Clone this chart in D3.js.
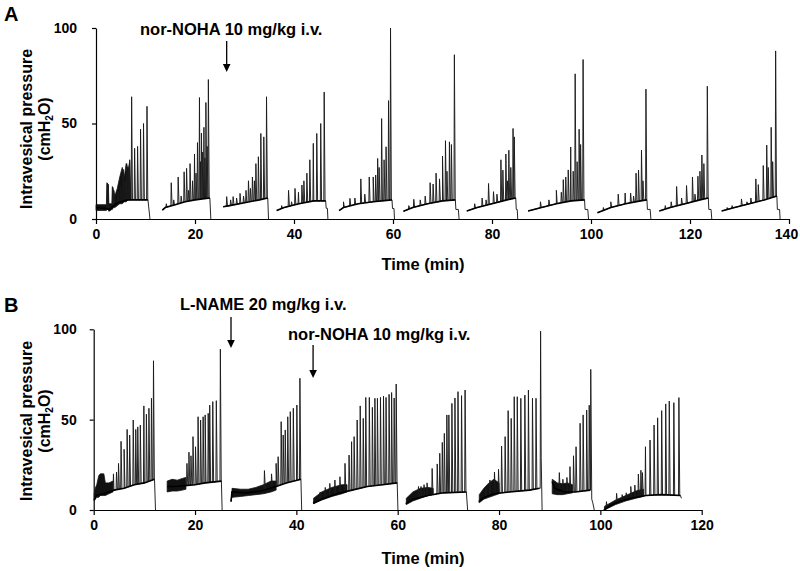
<!DOCTYPE html>
<html><head><meta charset="utf-8">
<script src="https://cdn.jsdelivr.net/npm/d3@7"></script>
<style>
body{margin:0;background:#fff}
svg{display:block}
text{font-family:"Liberation Sans",Arial,Helvetica,sans-serif;font-weight:bold;fill:#000}
</style>
</head><body>
<svg id="chart" width="800" height="571"></svg>
<script>
// ---------- tick labels ----------
const timeTicksA = [0, 20, 40, 60, 80, 100, 120, 140];
const timeTicksB = [0, 20, 40, 60, 80, 100, 120];
const pressureTicks = [0, 50, 100];

// ---------- annotations (time of i.v. injection, min) ----------
const injectionsA = [{ t: 26.4, label: "nor-NOHA 10 mg/kg i.v." }];
const injectionsB = [
  { t: 27.1, label: "L-NAME 20 mg/kg i.v." },
  { t: 43.3, label: "nor-NOHA 10 mg/kg i.v." }
];

// ---------- Panel A: filling cycles ----------
// baseline key points [time (min), pressure (cmH2O)]
const baseA = [
  [[0, 6], [2.1, 5.5], [2.7, 4.8], [3.2, 6], [4, 8], [5, 9], [6.5, 10], [10.5, 10]],
  [[13.4, 4.7], [14, 6], [16, 7.5], [18, 9], [20, 10], [23.0, 11]],
  [[25.7, 6.4], [27, 7], [30, 8.5], [33, 10], [34.7, 11]],
  [[36.5, 4.4], [38, 6], [41, 8], [44, 9.5], [46.4, 9.5]],
  [[49.1, 4.4], [50, 6], [53, 8], [56, 9], [59.8, 10]],
  [[62.1, 4], [64, 6], [67, 8], [70, 9.5], [72.6, 10]],
  [[74.9, 4.2], [77, 6], [80, 8], [83, 10], [84.8, 11]],
  [[87.3, 4.2], [90, 6], [93, 8], [96, 9.5], [98.7, 10]],
  [[101.3, 3.3], [104, 6], [107, 8], [110, 9.5], [111.3, 10]],
  [[113.8, 4.2], [116, 6], [119, 8], [122, 10], [123.7, 11]],
  [[126.4, 4.2], [129, 6], [132, 8], [135, 10], [137.55, 12]]
];
// contraction peaks [time, peak pressure]
const spikesA = [
  [[2.3, 18.5], [2.45, 18], [3.4, 16.5], [3.6, 15], [4.5, 14], [5.0, 17], [5.5, 26], [5.9, 20], [6.2, 29], [6.5, 26], [6.8, 31], [7.2, 64], [7.8, 37], [8.4, 38], [9.0, 47], [9.6, 50], [10.3, 59]],
  [[14.2, 8], [15.2, 19], [15.7, 10], [16.6, 22], [17.2, 12], [17.8, 24.7], [18.3, 26.5], [18.7, 15], [19.0, 29], [19.5, 20], [19.9, 34], [20.2, 24], [20.5, 40], [20.9, 63.6], [21.1, 30], [21.3, 45], [21.55, 35], [21.8, 48], [22.0, 32], [22.2, 61], [22.45, 38], [22.7, 73]],
  [[26.4, 11.7], [27.2, 10], [27.7, 11.7], [28.4, 11], [29.1, 13.4], [29.8, 12], [30.3, 15], [30.8, 20], [31.2, 16], [31.6, 22], [32.0, 20], [32.3, 29], [32.8, 32.6], [33.3, 44.8], [33.9, 43], [34.45, 64]],
  [[37.5, 7], [38.9, 15], [39.5, 9], [40.2, 16], [40.9, 14], [41.6, 17.8], [42.0, 20], [42.6, 24], [43.2, 31], [43.9, 39.6], [44.6, 44.8], [45.4, 50], [46.1, 66.5]],
  [[50.0, 9], [51.3, 10.8], [52.3, 11], [53.5, 21], [54.3, 13], [55.2, 22], [56.0, 22], [56.5, 23], [56.9, 31.7], [57.2, 27], [57.7, 52.6], [58.2, 31], [58.6, 37.8], [59.1, 62], [59.5, 100]],
  [[63.2, 7], [64.2, 10.3], [65.5, 10], [66.5, 12], [67.5, 19], [68.1, 18.3], [68.7, 24], [69.4, 21], [70.0, 33], [70.6, 41], [70.9, 25], [71.4, 40.4], [71.8, 39], [72.4, 86]],
  [[76.5, 8], [78.0, 11], [78.8, 10], [79.3, 18.6], [80.3, 14.3], [81.0, 13], [81.8, 31], [82.2, 25.6], [82.8, 34], [83.1, 20], [83.4, 36], [83.8, 27], [84.25, 47.4], [84.5, 43]],
  [[89.8, 9], [91.5, 10], [93.0, 15], [94.0, 14], [94.4, 20.6], [94.9, 22], [95.4, 25.7], [95.9, 37.7], [96.4, 25], [96.8, 76], [97.2, 30], [97.6, 47], [97.9, 39], [98.4, 83.5]],
  [[102.5, 6], [104.0, 9], [105.5, 13], [106.9, 13.6], [108.0, 13.6], [108.6, 12], [109.1, 24], [109.6, 25.6], [110.2, 36], [110.5, 20], [111.1, 68]],
  [[115.0, 7], [116.2, 9], [117.3, 17], [118.3, 11], [119.3, 17.5], [120.5, 22], [121.0, 13], [121.6, 22.4], [122.0, 25], [122.4, 33.5], [122.8, 29], [123.5, 69.5]],
  [[127.5, 6], [128.5, 7], [130.4, 10.5], [131.5, 9], [132.3, 11], [133.3, 21], [133.8, 18], [134.8, 28], [135.5, 38.7], [135.8, 27], [136.4, 48], [136.7, 30], [137.3, 88]]
];
// end of cycle (micturition / emptying) [time, pressure]
const tailA = [
  [[10.9, 0]],
  [[23.2, 0]],
  [[34.85, 0]],
  [[46.5, 5.6], [46.75, 5.6], [46.85, 0]],
  [[59.9, 5.5], [60.2, 5.5], [60.3, 0]],
  [[72.7, 5], [73.2, 5], [73.35, 0]],
  [[84.9, 5], [85.1, 5], [85.2, 0]],
  [[98.8, 5], [99.35, 5], [99.5, 0]],
  [[111.4, 5], [111.95, 5], [112.1, 0]],
  [[123.8, 5], [124.25, 5], [124.4, 0]],
  [[137.65, 5], [138.1, 5], [138.2, 0]]
];
// dense noise envelopes [time, low, high]
const noiseA = [
  [[0, 4.5, 7.5], [2.1, 4.5, 7.5], [2.2, 5, 19], [2.5, 5, 18], [2.6, 4, 8], [3.2, 5, 8], [3.3, 5, 17], [3.5, 6, 15], [3.8, 6, 12], [4.3, 7, 16], [4.8, 8, 22], [5.3, 8, 27], [5.7, 9, 22], [6.1, 9, 29], [6.5, 10, 26], [6.8, 10, 30], [7.0, 10, 14]]
];

// ---------- Panel B: filling cycles ----------
const baseB = [
  [[0.1, 5.5], [0.5, 8], [2, 9], [4, 11], [6, 12], [8, 14], [10, 15], [12.0, 17]],
  [[14.5, 13], [16, 13], [18, 13.5], [20, 14], [22, 15], [25.2, 16]],
  [[27.1, 4.6], [27.3, 10], [30, 9.5], [33, 10.5], [36, 13], [38, 15], [40.9, 17]],
  [[43.3, 3.7], [45, 6], [48, 9], [51, 11], [54, 13], [57, 14], [59.9, 15]],
  [[61.6, 3.5], [63, 6], [66, 8], [69, 9.5], [73.55, 10]],
  [[76.0, 4.6], [77, 7], [79, 9], [82, 10], [86, 11], [88.0, 12]],
  [[90.5, 15.7], [91, 12], [93, 10], [95, 10], [98.0, 11]],
  [[100.7, 0], [102, 2.5], [104, 5], [106, 6.5], [109, 8], [112, 8.5], [115.8, 8]]
];
const spikesB = [
  [[3.9, 20], [4.5, 21], [4.9, 25.8], [5.4, 38], [6.0, 33.6], [6.6, 44.6], [7.1, 41.5], [7.8, 49.8], [8.3, 44.6], [8.7, 46], [9.2, 47], [9.9, 57.6], [10.4, 53], [10.9, 56.3], [11.4, 61.8], [11.8, 82.6]],
  [[18.4, 25.8], [18.8, 32], [19.2, 30], [19.6, 40.6], [20.1, 35], [20.6, 51.6], [21.1, 49.8], [21.6, 51.6], [22.0, 52.6], [22.6, 53.5], [22.9, 58], [23.5, 60], [24.2, 60.5], [25.0, 89]],
  [[33.7, 21.8], [35.1, 20], [36.0, 25.8], [36.4, 29.5], [37.0, 48.9], [37.4, 41.5], [37.8, 44.3], [38.3, 51.6], [38.8, 54.4], [39.4, 56.3], [40.1, 58.1], [40.7, 72.9]],
  [[44.7, 10], [45.7, 12.5], [46.6, 14.7], [47.6, 16.6], [48.6, 18.4], [49.6, 25.8], [50.4, 30.4], [50.9, 37.8], [51.4, 40.6], [52.0, 49.8], [52.6, 57.6], [53.2, 50.7], [53.7, 62.3], [54.4, 62.3], [55.0, 56.8], [55.5, 61.8], [56.0, 61.8], [56.6, 62.3], [57.2, 63], [57.7, 62.3], [58.3, 64], [58.8, 65], [59.3, 62], [59.7, 69.7]],
  [[64.1, 13], [64.6, 13], [65.2, 14], [65.8, 15], [66.8, 23], [67.8, 25.5], [68.3, 31.4], [68.8, 37.4], [69.2, 42.4], [69.7, 52.6], [70.1, 52.6], [70.7, 59], [71.3, 62], [71.9, 65.5], [72.6, 63.3], [73.3, 66.4]],
  [[77.4, 12], [78.2, 16.6], [79.1, 21], [79.9, 22.5], [80.5, 35.4], [81.2, 40.6], [81.8, 55], [82.4, 50.7], [83.0, 62.7], [83.6, 62.7], [84.3, 61.8], [85.1, 63.6], [85.8, 66.4], [86.6, 61.8], [87.3, 61.8]],
  [[91.9, 20.7], [92.6, 17], [93.4, 18], [94.0, 24], [94.7, 30], [95.2, 35], [96.0, 48], [96.6, 52.6], [97.3, 55.3], [97.8, 58]],
  [[101.2, 4.6], [103.2, 9.2], [104.3, 8.5], [105.1, 9.5], [106.0, 13], [106.8, 13.8], [107.5, 19.9], [108.0, 22], [108.3, 20.7], [108.9, 35], [109.8, 38.7], [110.6, 47], [111.3, 51], [112.1, 55], [112.9, 58.7], [113.6, 60.3], [114.5, 59.4], [115.5, 62.2]]
];
const tailB = [
  [[12.2, 0]],
  [[25.35, 0]],
  [[41.05, 0]],
  [[60.05, 0]],
  [[73.8, 0]],
  [[88.12, 12], [88.2, 99], [88.32, 29], [88.5, 0]],
  [[98.05, 11], [98.1, 77.8], [98.3, 6], [98.5, 4], [98.8, 0]],
  [[116.0, 6.5]]
];
const noiseB = [
  [[0.1, 5, 9], [0.3, 6, 12], [0.6, 7, 14], [1.0, 7, 19], [1.3, 8, 20], [2.0, 8, 20], [2.3, 8, 15], [3.0, 9, 15], [3.8, 10, 16]],
  [[14.5, 10, 16], [15.5, 10.5, 17], [16.5, 10.5, 16.5], [17.5, 11, 17.5], [18.2, 11.5, 18]],
  [[27.3, 7, 12], [29, 7.5, 11.5], [30.5, 8, 11.5], [32, 8.5, 12.5], [33.5, 9, 14], [35, 10, 16], [36, 11, 16]],
  [[43.4, 3.5, 6.5], [45, 5.5, 10], [47, 7.5, 12.5], [49, 9, 14], [50, 10, 14]],
  [[61.7, 3, 6.5], [63, 5, 10], [64.5, 6.5, 12], [66, 8, 12.5], [67, 9, 12]],
  [[76.1, 4, 8.5], [77, 6, 12], [78, 7, 15], [79, 8, 17], [80, 9, 15]],
  [[90.5, 9, 17], [91.5, 8.5, 15], [92.5, 8.5, 14.5], [93.5, 9, 15], [94.5, 9.5, 14]],
  [[100.8, 0, 2], [103, 3, 5.5], [105, 5, 8], [107, 6.5, 10.5], [108.5, 7.5, 11.5]]
];

// ---------- drawing ----------
const svg = d3.select("#chart");
svg.append("rect").attr("width", 800).attr("height", 571).attr("fill", "#fff");

function buildCycle(base, spikes, tail) {
  const bs = d3.scaleLinear()
    .domain(base.map(d => d[0]))
    .range(base.map(d => d[1]))
    .clamp(true);
  const pts = base.map(d => [d[0], d[1]]);
  spikes.forEach(([t, p]) => {
    pts.push([t - 0.08, bs(t - 0.08)], [t, p], [t + 0.17, bs(t + 0.17)]);
  });
  pts.sort((a, b) => a[0] - b[0]);
  return pts.concat(tail);
}

function drawPanel(cfg) {
  const g = svg.append("g");
  const x = d3.scaleLinear().domain(cfg.xDomain).range(cfg.xRange);
  const y = d3.scaleLinear().domain([0, 100]).range(cfg.yRange);

  // axes
  const xAxis = d3.axisBottom(x).tickValues(cfg.xTicks).tickSize(5).tickSizeOuter(0).tickPadding(5);
  const yAxis = d3.axisLeft(y).tickValues(pressureTicks).tickSize(4).tickSizeOuter(0).tickPadding(cfg.yPad);
  const gx = g.append("g").attr("transform", `translate(0,${cfg.yRange[0]})`).call(xAxis);
  const gy = g.append("g").attr("transform", `translate(${cfg.xRange[0]},0)`).call(yAxis);
  [gx, gy].forEach(a => {
    a.selectAll("path,line").attr("stroke", "#000").attr("stroke-width", 1.2);
    a.selectAll("text").style("font-size", "14px").style("font-weight", "bold")
      .style("font-family", '"Liberation Sans",Arial,sans-serif').attr("fill", "#000");
  });
  // keep the last time label inside the page, as in the original
  gx.selectAll(".tick text").filter(d => d === 140).attr("dx", -3);

  // noise bands
  const area = d3.area().x(d => x(d[0])).y0(d => y(d[1])).y1(d => y(d[2]));
  g.append("g").selectAll("path").data(cfg.noise).join("path")
    .attr("d", area).attr("fill", "#111").attr("stroke", "#111").attr("stroke-width", 0.8);

  // traces
  const line = d3.line().x(d => x(d[0])).y(d => y(d[1]));
  const cycles = cfg.base.map((b, i) => buildCycle(b, cfg.spikes[i], cfg.tail[i]));
  g.append("g").selectAll("path").data(cycles).join("path")
    .attr("d", line).attr("fill", "none").attr("stroke", "#1a1a1a")
    .attr("stroke-width", 0.95).attr("stroke-linejoin", "round");
  g.append("g").selectAll("path").data(cfg.base).join("path")
    .attr("d", line).attr("fill", "none").attr("stroke", "#000")
    .attr("stroke-width", 1.6);

  // panel letter
  g.append("text").attr("x", cfg.letterPos[0]).attr("y", cfg.letterPos[1])
    .style("font-size", "20px").text(cfg.letter);

  // y label
  const yl = g.append("g").attr("transform", `translate(0,${cfg.yLabelCenter}) rotate(-90)`);
  yl.append("text").attr("x", 0).attr("y", 32).attr("text-anchor", "middle")
    .style("font-size", "16px").text("Intravesical pressure");
  const t2 = yl.append("text").attr("x", 0).attr("y", 50).attr("text-anchor", "middle")
    .style("font-size", "16px");
  t2.append("tspan").text("(cmH");
  t2.append("tspan").attr("dy", 3).style("font-size", "10px").text("2");
  t2.append("tspan").attr("dy", -3).text("O)");

  // x label
  g.append("text").attr("x", 423).attr("y", cfg.xLabelY).attr("text-anchor", "middle")
    .style("font-size", "16.5px").text("Time (min)");

  // injections
  cfg.injections.forEach((inj, i) => {
    const ax = x(inj.t);
    const a = cfg.arrows[i];
    g.append("text").attr("x", a.tx).attr("y", a.ty).style("font-size", "16.5px").text(inj.label);
    g.append("line").attr("x1", ax).attr("x2", ax).attr("y1", a.y1).attr("y2", a.y2 - 6)
      .attr("stroke", "#000").attr("stroke-width", 1.3);
    g.append("path").attr("d", `M${ax - 3.8},${a.y2 - 8}L${ax + 3.8},${a.y2 - 8}L${ax},${a.y2}Z`)
      .attr("fill", "#000");
  });
}

drawPanel({
  xDomain: [0, 140], xRange: [96, 789], yRange: [219, 28], xTicks: timeTicksA, yPad: 15,
  base: baseA, spikes: spikesA, tail: tailA, noise: noiseA,
  letter: "A", letterPos: [4, 21], yLabelCenter: 129, xLabelY: 270,
  injections: injectionsA,
  arrows: [{ tx: 140, ty: 35, y1: 41, y2: 72 }]
});
drawPanel({
  xDomain: [0, 120], xRange: [93.7, 701.7], yRange: [510, 329.3], xTicks: timeTicksB, yPad: 13,
  base: baseB, spikes: spikesB, tail: tailB, noise: noiseB,
  letter: "B", letterPos: [4, 312], yLabelCenter: 421, xLabelY: 564,
  injections: injectionsB,
  arrows: [{ tx: 180, ty: 310, y1: 317, y2: 348 }, { tx: 288, ty: 340, y1: 345, y2: 378 }]
});
</script>
</body></html>
